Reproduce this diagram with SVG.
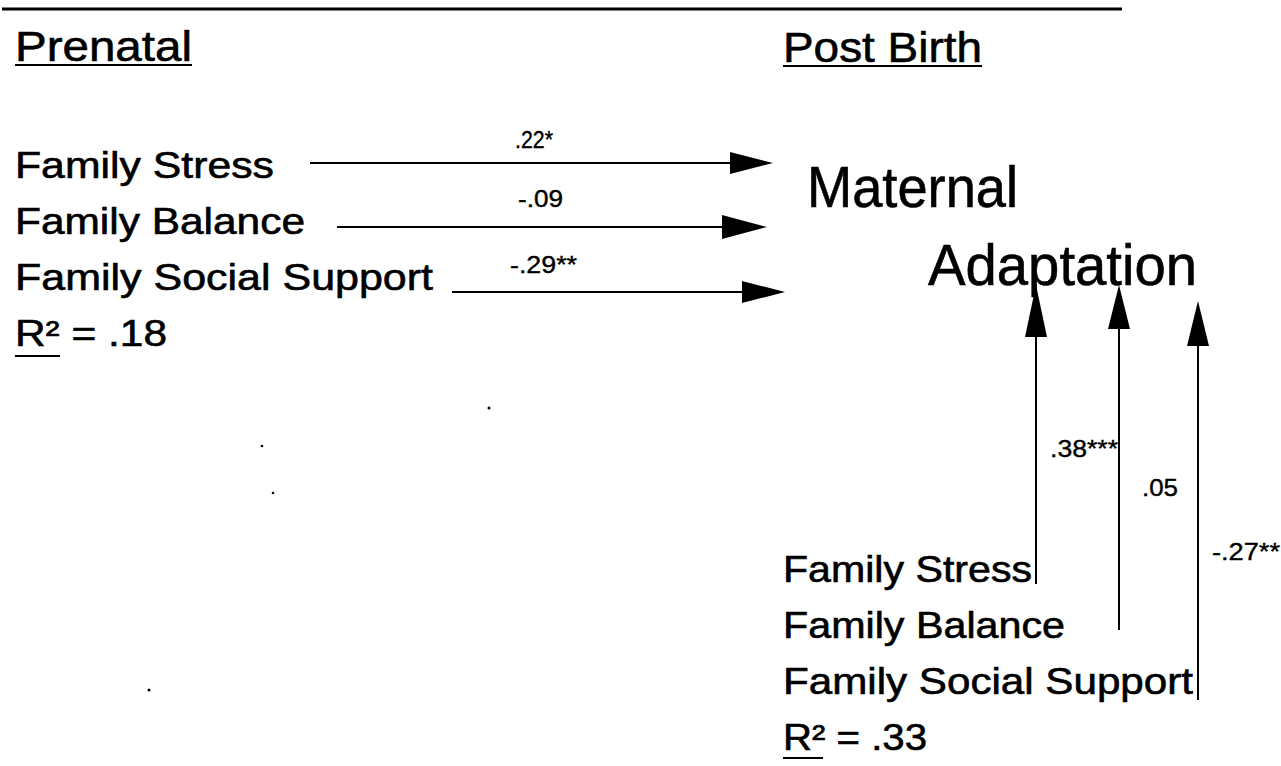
<svg xmlns="http://www.w3.org/2000/svg" width="1281" height="766" viewBox="0 0 1281 766">
<style>
text{font-family:"Liberation Sans",Arial,sans-serif;fill:#000;stroke:#000;stroke-width:0.6}
.hdr{font-size:43px}
.lbl{font-size:36px}
.big{font-size:58px}
.coef{font-size:24px;stroke-width:0.4}
.ln{stroke:#000;stroke-width:2;fill:none}
.ul{stroke:#000;stroke-width:2}
.head{fill:#000;stroke:none}
.speck{fill:#000}
</style>
<rect width="1281" height="766" fill="#fff"/>
<line x1="2" y1="9" x2="1122" y2="9" stroke="#000" stroke-width="3"/>

<g id="hdr-prenatal">
<text class="hdr" x="15" y="61" textLength="177" lengthAdjust="spacingAndGlyphs">Prenatal</text>
<line class="ul" x1="15" y1="65" x2="192" y2="65"/>
</g>
<g id="hdr-postbirth">
<text class="hdr" x="783" y="62" textLength="199" lengthAdjust="spacingAndGlyphs">Post Birth</text>
<line class="ul" x1="783" y1="66" x2="982" y2="66"/>
</g>

<g id="pre-stress"><text class="lbl" x="15" y="178" textLength="259" lengthAdjust="spacingAndGlyphs">Family Stress</text></g>
<g id="pre-balance"><text class="lbl" x="15" y="234" textLength="290" lengthAdjust="spacingAndGlyphs">Family Balance</text></g>
<g id="pre-support"><text class="lbl" x="15" y="290" textLength="418" lengthAdjust="spacingAndGlyphs">Family Social Support</text></g>
<g id="pre-r2">
<text class="lbl" x="15" y="346" textLength="152" lengthAdjust="spacingAndGlyphs">R² = .18</text>
<line class="ul" x1="15" y1="356" x2="60" y2="356"/>
</g>

<g id="outcome">
<text class="big" x="807" y="207" textLength="211" lengthAdjust="spacingAndGlyphs">Maternal</text>
<text class="big" x="928" y="285" textLength="269" lengthAdjust="spacingAndGlyphs">Adaptation</text>
</g>

<g id="post-stress"><text class="lbl" x="783" y="582" textLength="249" lengthAdjust="spacingAndGlyphs">Family Stress</text></g>
<g id="post-balance"><text class="lbl" x="783" y="638" textLength="282" lengthAdjust="spacingAndGlyphs">Family Balance</text></g>
<g id="post-support"><text class="lbl" x="783" y="694" textLength="410" lengthAdjust="spacingAndGlyphs">Family Social Support</text></g>
<g id="post-r2">
<text class="lbl" x="783" y="750" textLength="144" lengthAdjust="spacingAndGlyphs">R² = .33</text>
<line class="ul" x1="783" y1="758" x2="823" y2="758"/>
</g>

<g id="connectors">
<line class="ln" x1="310" y1="163" x2="732" y2="163"/>
<polygon class="head" points="730,152 773,163 730,174"/>
<text class="coef" x="515" y="148" textLength="38" lengthAdjust="spacingAndGlyphs">.22*</text>

<line class="ln" x1="337" y1="227" x2="724" y2="227"/>
<polygon class="head" points="722,215 767,227 722,239"/>
<text class="coef" x="518" y="207" textLength="45" lengthAdjust="spacingAndGlyphs">-.09</text>

<line class="ln" x1="452" y1="292" x2="744" y2="292"/>
<polygon class="head" points="742,281 785,292 742,303"/>
<text class="coef" x="510" y="273" textLength="67" lengthAdjust="spacingAndGlyphs">-.29**</text>

<line class="ln" x1="1036" y1="335" x2="1036" y2="584"/>
<polygon class="head" points="1025,337 1036,285 1047,337"/>
<text class="coef" x="1050" y="457" textLength="68" lengthAdjust="spacingAndGlyphs">.38***</text>

<line class="ln" x1="1119" y1="327" x2="1119" y2="630"/>
<polygon class="head" points="1108,329 1119,285 1130,329"/>
<text class="coef" x="1142" y="496" textLength="36" lengthAdjust="spacingAndGlyphs">.05</text>

<line class="ln" x1="1198" y1="344" x2="1198" y2="700"/>
<polygon class="head" points="1187,346 1198,301 1209,346"/>
<text class="coef" x="1212" y="560" textLength="68" lengthAdjust="spacingAndGlyphs">-.27**</text>
</g>

<circle class="speck" cx="489" cy="408" r="1.5"/>
<circle class="speck" cx="262" cy="446" r="1.3"/>
<circle class="speck" cx="273" cy="493" r="1.3"/>
<circle class="speck" cx="149" cy="690" r="1.5"/>
</svg>
